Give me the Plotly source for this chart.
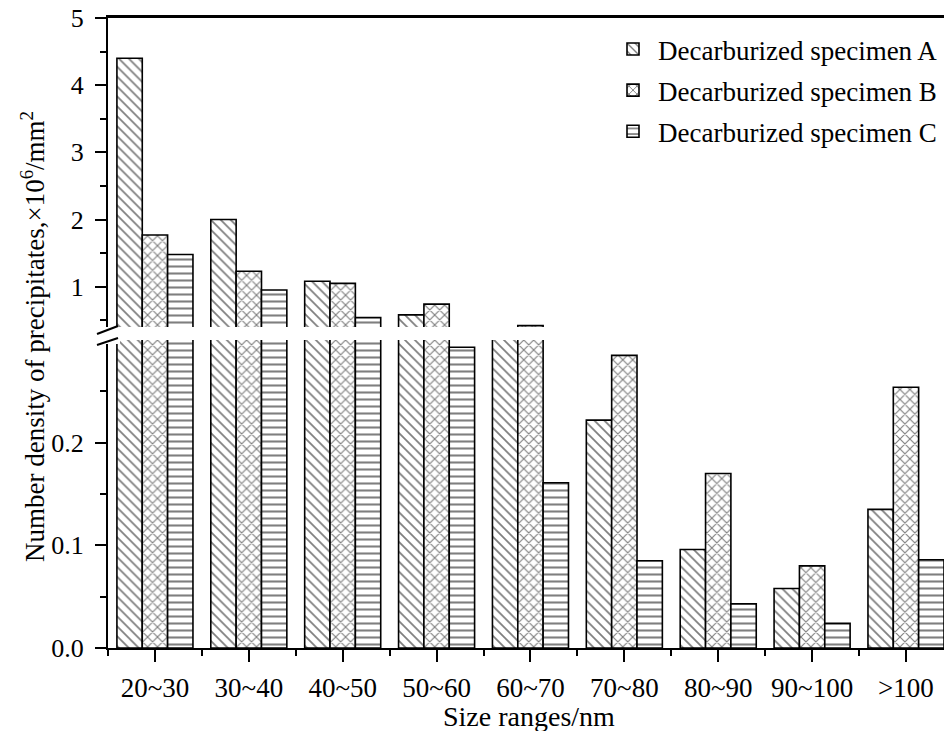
import plotly.graph_objects as go

categories = ["20~30", "30~40", "40~50", "50~60", "60~70", "70~80", "80~90", "90~100", ">100"]
series_names = ["Decarburized specimen A", "Decarburized specimen B", "Decarburized specimen C"]
spec_a = [4.40, 2.00, 1.08, 0.58, 0.35, 0.222, 0.096, 0.058, 0.135]
spec_b = [1.77, 1.23, 1.05, 0.74, 0.42, 0.285, 0.170, 0.080, 0.254]
spec_c = [1.48, 0.95, 0.54, 0.293, 0.161, 0.085, 0.043, 0.024, 0.086]
lower_ticks = [0.0, 0.1, 0.2]
lower_tick_text = ["0.0", "0.1", "0.2"]
upper_ticks = [1, 2, 3, 4, 5]
upper_tick_text = ["1", "2", "3", "4", "5"]

FONT = "Liberation Serif"
x_pos = list(range(len(categories)))

patterns = [
    dict(shape="\\", size=7, solidity=0.25),
    dict(shape="x", size=7, solidity=0.3),
    dict(shape="-", size=7, solidity=0.3),
]

fig = go.Figure()
for name, vals, pat in zip(series_names, [spec_a, spec_b, spec_c], patterns):
    marker = dict(
        color="white",
        line=dict(color="black", width=1.6),
        pattern=dict(fgcolor="black", bgcolor="white", **pat),
    )
    fig.add_trace(go.Bar(x=x_pos, y=vals, name=name, marker=marker,
                         xaxis="x", yaxis="y", showlegend=False, legendgroup=name))
    fig.add_trace(go.Bar(x=x_pos, y=vals, name=name, marker=marker,
                         xaxis="x2", yaxis="y2", showlegend=True, legendgroup=name))

W, H = 944, 731
L, R, T, B = 108, 0, 18, 83
pw, ph = W - L - R, H - T - B


def px(xp):
    return (xp - L) / pw


def py(yp):
    return (H - B - yp) / ph


lower_top = py(340)
upper_bot = py(327)

line_common = dict(showgrid=False, zeroline=False, showline=True, linecolor="black",
                   linewidth=2, ticks="outside", tickcolor="black", tickwidth=2)

fig.update_layout(
    width=W, height=H,
    margin=dict(l=L, r=R, t=T, b=B),
    paper_bgcolor="white", plot_bgcolor="white",
    barmode="group", bargap=0.19, bargroupgap=0,
    font=dict(family=FONT, color="black"),
    xaxis=dict(
        domain=[0, 1], anchor="y", range=[-0.5, 8.405],
        tickmode="array", tickvals=x_pos, ticktext=categories,
        ticklen=12, ticklabelstandoff=3,
        tickfont=dict(family=FONT, size=27, color="black"),
        minor=dict(tickmode="array", tickvals=[i - 0.5 for i in range(len(categories) + 1)],
                   ticks="outside", ticklen=6, tickwidth=2, tickcolor="black"),
        **line_common,
    ),
    xaxis2=dict(
        domain=[0, 1], anchor="y2", range=[-0.5, 8.405], matches="x", side="top",
        showticklabels=False, ticks="", showgrid=False, zeroline=False,
        showline=True, linecolor="black", linewidth=2.5,
    ),
    yaxis=dict(
        domain=[0, lower_top], anchor="x", range=[0, 0.3],
        tickmode="array", tickvals=lower_ticks, ticktext=lower_tick_text,
        ticklen=11, ticklabelstandoff=6,
        tickfont=dict(family=FONT, size=26, color="black"),
        minor=dict(tickmode="array", tickvals=[0.05, 0.15, 0.25],
                   ticks="outside", ticklen=6, tickwidth=2, tickcolor="black"),
        **line_common,
    ),
    yaxis2=dict(
        domain=[upper_bot, 1], anchor="x2", range=[0.4, 5],
        tickmode="array", tickvals=upper_ticks, ticktext=upper_tick_text,
        ticklen=11, ticklabelstandoff=6,
        tickfont=dict(family=FONT, size=26, color="black"),
        minor=dict(tickmode="array", tickvals=[0.5, 1.5, 2.5, 3.5, 4.5],
                   ticks="outside", ticklen=6, tickwidth=2, tickcolor="black"),
        **line_common,
    ),
    legend=dict(
        x=px(608), y=py(25), xanchor="left", yanchor="top",
        font=dict(family=FONT, size=27, color="black"),
        bgcolor="rgba(0,0,0,0)", borderwidth=0,
        traceorder="grouped", tracegroupgap=3, itemwidth=40,
    ),
    annotations=[
        dict(text="Number density of precipitates,×10<sup>6</sup>/mm<sup>2</sup>",
             xref="paper", yref="paper", x=px(33), y=py(337),
             xanchor="center", yanchor="middle", textangle=-90, showarrow=False,
             font=dict(family=FONT, size=27, color="black")),
        dict(text="Size ranges/nm", xref="paper", yref="paper",
             x=px(529), y=py(716), xanchor="center", yanchor="middle",
             showarrow=False, font=dict(family=FONT, size=28, color="black")),
    ],
    shapes=[
        dict(type="rect", xref="paper", yref="paper", x0=px(96), x1=px(120),
             y0=py(344), y1=py(327), fillcolor="white", line=dict(width=0)),
        dict(type="line", xref="paper", yref="paper", x0=px(97), y0=py(334),
             x1=px(118), y1=py(326), line=dict(color="black", width=2)),
        dict(type="line", xref="paper", yref="paper", x0=px(97), y0=py(345),
             x1=px(118), y1=py(338), line=dict(color="black", width=2)),
    ],
)

fig.write_html("out.html")
